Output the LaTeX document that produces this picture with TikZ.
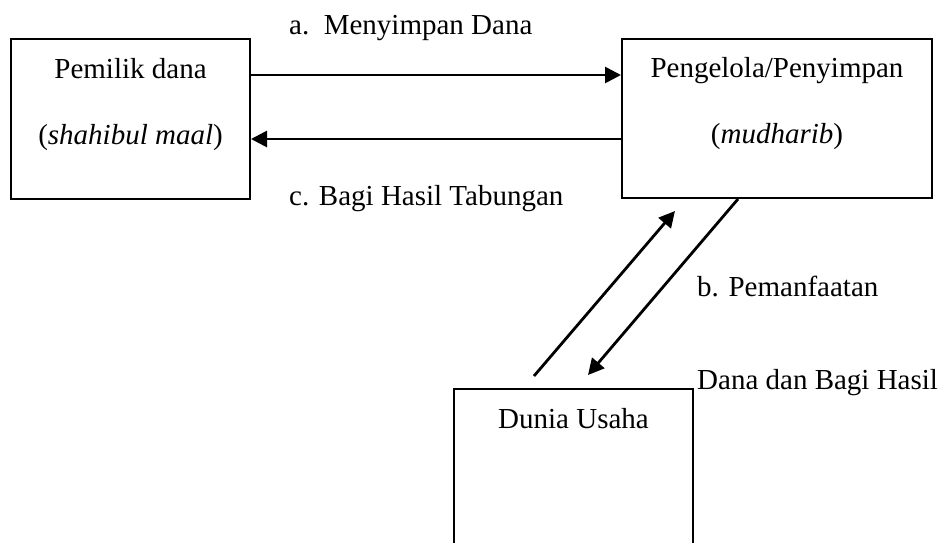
\documentclass[tikz,border=0pt]{standalone}
\usepackage{fontspec}
\setmainfont{Liberation Serif}
\usetikzlibrary{arrows.meta}
\begin{document}
\begin{tikzpicture}[x=1pt,y=-1pt,
  box/.style={draw,line width=2pt,inner sep=0pt,minimum width=#1},
  txt/.style={inner sep=0pt,font=\fontsize{29}{34}\selectfont},
  arr/.style={line width=2.8pt,-{Triangle[length=16pt,width=16pt]}}]
\useasboundingbox (0,0) rectangle (945,542);
\clip (0,0) rectangle (945,542);
% boxes
\node[box=239pt,minimum height=160pt] (b1) at (130.5,119) {};
\node[box=310pt,minimum height=159pt] (b2) at (777,118.5) {};
\node[box=239pt,minimum height=200pt] (b3) at (573.5,489) {};
% box texts
\node[txt,anchor=base] (t1a) at (130.5,78) {Pemilik dana};
\node[txt,anchor=base] (t1b) at (130.5,144) {(\textit{shahibul maal})};
\node[txt,anchor=base] (t2a) at (777,77) {Pengelola/Penyimpan};
\node[txt,anchor=base] (t2b) at (777,143) {(\textit{mudharib})};
\node[txt,anchor=base] (t3a) at (573.5,428) {Dunia Usaha};
% labels
\node[txt,anchor=base west] (la) at (289,34) {a.\ \ Menyimpan Dana};
\node[txt,anchor=base west] (lc) at (289,205) {c. Bagi Hasil Tabungan};
\node[txt,anchor=base west] (lb) at (697,296) {b. Pemanfaatan};
\node[txt,anchor=base west] (ld) at (697,389) {Dana dan Bagi Hasil};
% connectors
\draw[arr] ([yshift=44pt]b1.east) -- ([yshift=43.5pt]b2.west);
\draw[arr] ([yshift=-20.5pt]b2.west) -- ([yshift=-20pt]b1.east);
\draw[arr] ([shift={(-39.5pt,12pt)}]b3.north) -- ([shift={(-102pt,-12pt)}]b2.south);
\draw[arr] ([xshift=-39pt]b2.south) -- ([shift={(14.5pt,13pt)}]b3.north);
\end{tikzpicture}
\end{document}
